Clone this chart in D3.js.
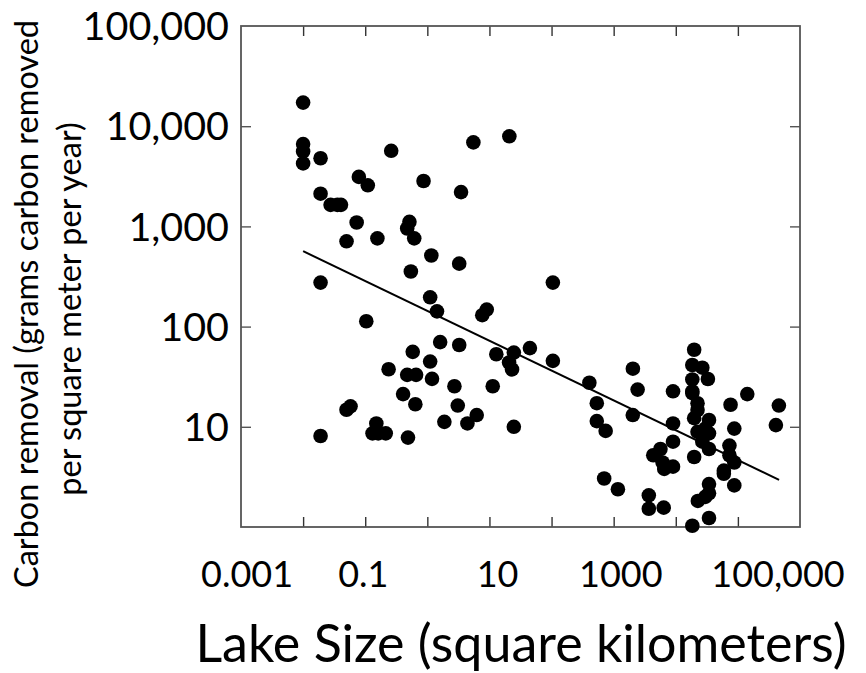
<!DOCTYPE html>
<html>
<head>
<meta charset="utf-8">
<script src="https://cdn.jsdelivr.net/npm/d3@7"></script>
<style>
  html, body { margin: 0; padding: 0; background: #fff; }
  svg { display: block; }
  text { font-family: Lato, "Open Sans", sans-serif; fill: #000; }
</style>
</head>
<body>
<svg id="chart" width="866" height="673"></svg>
<script>
// ---- data (lake size km^2, carbon removal g C / m^2 / yr) ----
const lakeSize = [
  0.001, 0.001, 0.001, 0.001,
  0.00191, 0.00191, 0.00191, 0.00191,
  0.00277, 0.00356, 0.00407,
  0.0050, 0.00728, 0.00790, 0.0110, 0.0157, 0.0104,
  0.0050, 0.0058, 0.0262, 0.0151, 0.0131, 0.0162, 0.0214,
  0.0869, 0.349, 0.551, 2.09,
  0.0515, 0.0474, 0.0615, 0.116, 0.326, 0.0543, 0.111, 0.143,
  0.766, 0.905, 10.5,
  0.161, 0.326, 0.0582, 0.111, 0.0238, 0.0474, 0.0659, 0.119,
  0.0407, 0.0641, 0.273, 0.309, 0.188, 0.442, 0.624, 0.0488,
  1.13, 1.29, 2.47, 2.07, 2.31, 4.48, 10.5, 2.47,
  40.6, 53.5, 53.5, 74.3, 204, 243, 203, 903, 903, 903,
  567, 434, 613, 652, 902, 70.3, 117, 368, 368, 639,
  1977, 2675, 1846, 1846, 1846, 1846, 2239, 2239, 1977, 3427, 2239, 3427,
  2675, 3427, 1977, 2987, 2266, 3427, 2987, 1846,
  7621, 14160, 7311, 7311, 8750, 5943, 5943, 8750, 3427, 3427, 8750, 3289,
  45700, 40900
];
const carbonRemoval = [
  17200, 6630, 5590, 4250,
  4790, 2120, 275, 8.1,
  1640, 1640, 1640,
  710, 1094, 3120, 2570, 760, 113,
  14.8, 16, 5680, 10.8, 8.6, 8.6, 8.6,
  2840, 2200, 6890, 7930,
  1110, 953, 760, 512, 425, 355, 196, 142,
  130, 148, 275,
  70, 65.5, 56, 44.8, 37.5, 33, 33, 30.1,
  21.2, 16.8, 25.4, 16.3, 11.2, 10.8, 13.1, 7.8,
  25.4, 53, 55, 43.8, 37.4, 61, 45.5, 10,
  27.5, 17.2, 11.4, 9.1, 38, 23.5, 13.1, 22.6, 10.8, 7.1,
  6.0, 5.2, 4.4, 3.8, 4.0, 3.05, 2.38, 1.52, 2.07, 1.56,
  58.7, 38.9, 41.4, 29.7, 22.6, 21.7, 17.2, 14.7, 12.2, 11.7, 8.9, 8.6,
  7.1, 6.0, 5.0, 9.6, 1.82, 2.68, 2.0, 1.03,
  16.6, 21.2, 6.5, 5.2, 4.4, 3.65, 3.4, 2.6, 2.17, 1.23, 9.6, 30,
  16.3, 10.4
];
// fitted trend line (endpoints)
const fitX = [0.001, 46000];
const fitY = [566, 2.96];

const xTickValues = [0.001, 0.01, 0.1, 1, 10, 100, 1000, 10000];
const xLabelValues = [0.001, 0.1, 10, 1000, 100000];
const xLabels = ["0.001", "0.1", "10", "1000", "100,000"];
const yTickValues = [10, 100, 1000, 10000];
const yLabelValues = [10, 100, 1000, 10000, 100000];
const yLabels = ["10", "100", "1,000", "10,000", "100,000"];
const xTitle = "Lake Size (square kilometers)";
const yTitle1 = "Carbon removal (grams carbon removed";
const yTitle2 = "per square meter per year)";

// ---- layout ----
const L = 241, T = 26, W = 559, H = 501;
const xLabelShift = [-56, -64, -54, -55, -22];

const svg = d3.select("#chart");
const x = d3.scaleLog().domain([0.0001, 100000]).range([L, L + W]);
const y = d3.scaleLog().domain([1, 100000]).range([T + H, T]);

const g = svg.append("g");

// ticks inside the frame (all four sides)
const tickLen = 10;
g.append("g").attr("transform", `translate(0,${T + H})`)
  .call(d3.axisTop(x).tickValues(xTickValues).tickSize(tickLen).tickFormat(""))
  .call(a => a.select(".domain").remove())
  .selectAll("line").attr("stroke", "#333").attr("stroke-width", 1.4);
g.append("g").attr("transform", `translate(0,${T})`)
  .call(d3.axisBottom(x).tickValues(xTickValues).tickSize(tickLen).tickFormat(""))
  .call(a => a.select(".domain").remove())
  .selectAll("line").attr("stroke", "#333").attr("stroke-width", 1.4);
g.append("g").attr("transform", `translate(${L},0)`)
  .call(d3.axisRight(y).tickValues(yTickValues).tickSize(tickLen).tickFormat(""))
  .call(a => a.select(".domain").remove())
  .selectAll("line").attr("stroke", "#555").attr("stroke-width", 1.4);
g.append("g").attr("transform", `translate(${L + W},0)`)
  .call(d3.axisLeft(y).tickValues(yTickValues).tickSize(tickLen).tickFormat(""))
  .call(a => a.select(".domain").remove())
  .selectAll("line").attr("stroke", "#555").attr("stroke-width", 1.4);

// frame
g.append("rect").attr("x", L).attr("y", T).attr("width", W).attr("height", H)
  .attr("fill", "none").attr("stroke", "#555").attr("stroke-width", 1.8);

// y labels
g.selectAll(".ylab").data(yLabelValues).join("text")
  .attr("class", "ylab")
  .attr("x", L - 12).attr("y", d => y(d))
  .attr("dy", "0.36em")
  .attr("text-anchor", "end")
  .style("font-size", "39.5px")
  .text((d, i) => yLabels[i]);

// x labels
g.selectAll(".xlab").data(xLabelValues).join("text")
  .attr("class", "xlab")
  .attr("x", (d, i) => x(d) + xLabelShift[i]).attr("y", T + H + 47)
  .attr("dy", "0.36em")
  .attr("text-anchor", "middle")
  .style("font-size", "36px")
  .text((d, i) => xLabels[i]);

// titles
g.append("text").attr("x", 521).attr("y", 662)
  .attr("text-anchor", "middle").style("font-size", "52px").text(xTitle);
g.append("text").attr("transform", "translate(38,304) rotate(-90)")
  .attr("text-anchor", "middle").style("font-size", "32.5px").text(yTitle1);
g.append("text").attr("transform", "translate(81,309) rotate(-90)")
  .attr("text-anchor", "middle").style("font-size", "32.5px").text(yTitle2);

// fit line
const pts = fitX.map((v, i) => [v, fitY[i]]);
g.append("path").datum(pts)
  .attr("d", d3.line().x(d => x(d[0])).y(d => y(d[1])))
  .attr("stroke", "#000").attr("stroke-width", 2).attr("fill", "none");

// points
g.selectAll(".pt").data(lakeSize.map((v, i) => [v, carbonRemoval[i]])).join("circle")
  .attr("class", "pt")
  .attr("cx", d => x(d[0])).attr("cy", d => y(d[1]))
  .attr("r", 7.3).attr("fill", "#000");
</script>
</body>
</html>
